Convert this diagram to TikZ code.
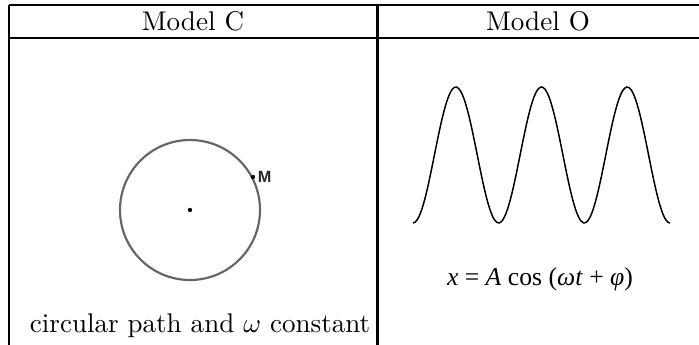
\documentclass[tikz,border=0pt]{standalone}
\usepackage{fontspec}
\newfontfamily\timesfont{Liberation Serif}
\newfontfamily\arialfont{Liberation Sans}
\usetikzlibrary{positioning}

\begin{document}
\begin{tikzpicture}[x=0.37pt,y=-0.37pt,
    rule/.style={line width=0.75pt},
    dot/.style={circle,fill,inner sep=0pt,minimum size=1.6pt}]
    \useasboundingbox (0,0) rectangle (699,345);
    % table rules
    \draw[rule] (9,5) -- (699,5);
    \draw[rule, line width=1.1pt] (9,38) -- (699,38);
    \draw[rule] (9,4.6) -- (9,345);
    \draw[rule] (377.5,4.6) -- (377.5,345);
    % column heads
    \node (headC) at (193,21) {Model C};
    \node (headO) at (538,21) {Model O};
    % circular path
    \draw[black!60, line width=0.8pt] (190,210) circle [radius=25.9pt];
    \node[dot] (centre) at (190,210) {};
    \node[dot] (M) at (253,177) {};
    \node[right=0.6pt of M, inner sep=0pt, text=black!85, font=\arialfont\bfseries\fontsize{6}{7}\selectfont] (Mlabel) {M};
    \node (caption) at (200,326) {circular path and $\omega$ constant};
    % oscillation
    \draw[line width=0.55pt, smooth, samples=120, domain=413:670]
        plot (\x, {155+68*cos(4.2022*(\x-413))});
    \node[font=\timesfont\fontsize{9.5}{11}\selectfont] (law) at (540,279)
        {\textit{x} = \textit{A} cos (\textit{ωt} + \textit{φ})};
\end{tikzpicture}
\end{document}
